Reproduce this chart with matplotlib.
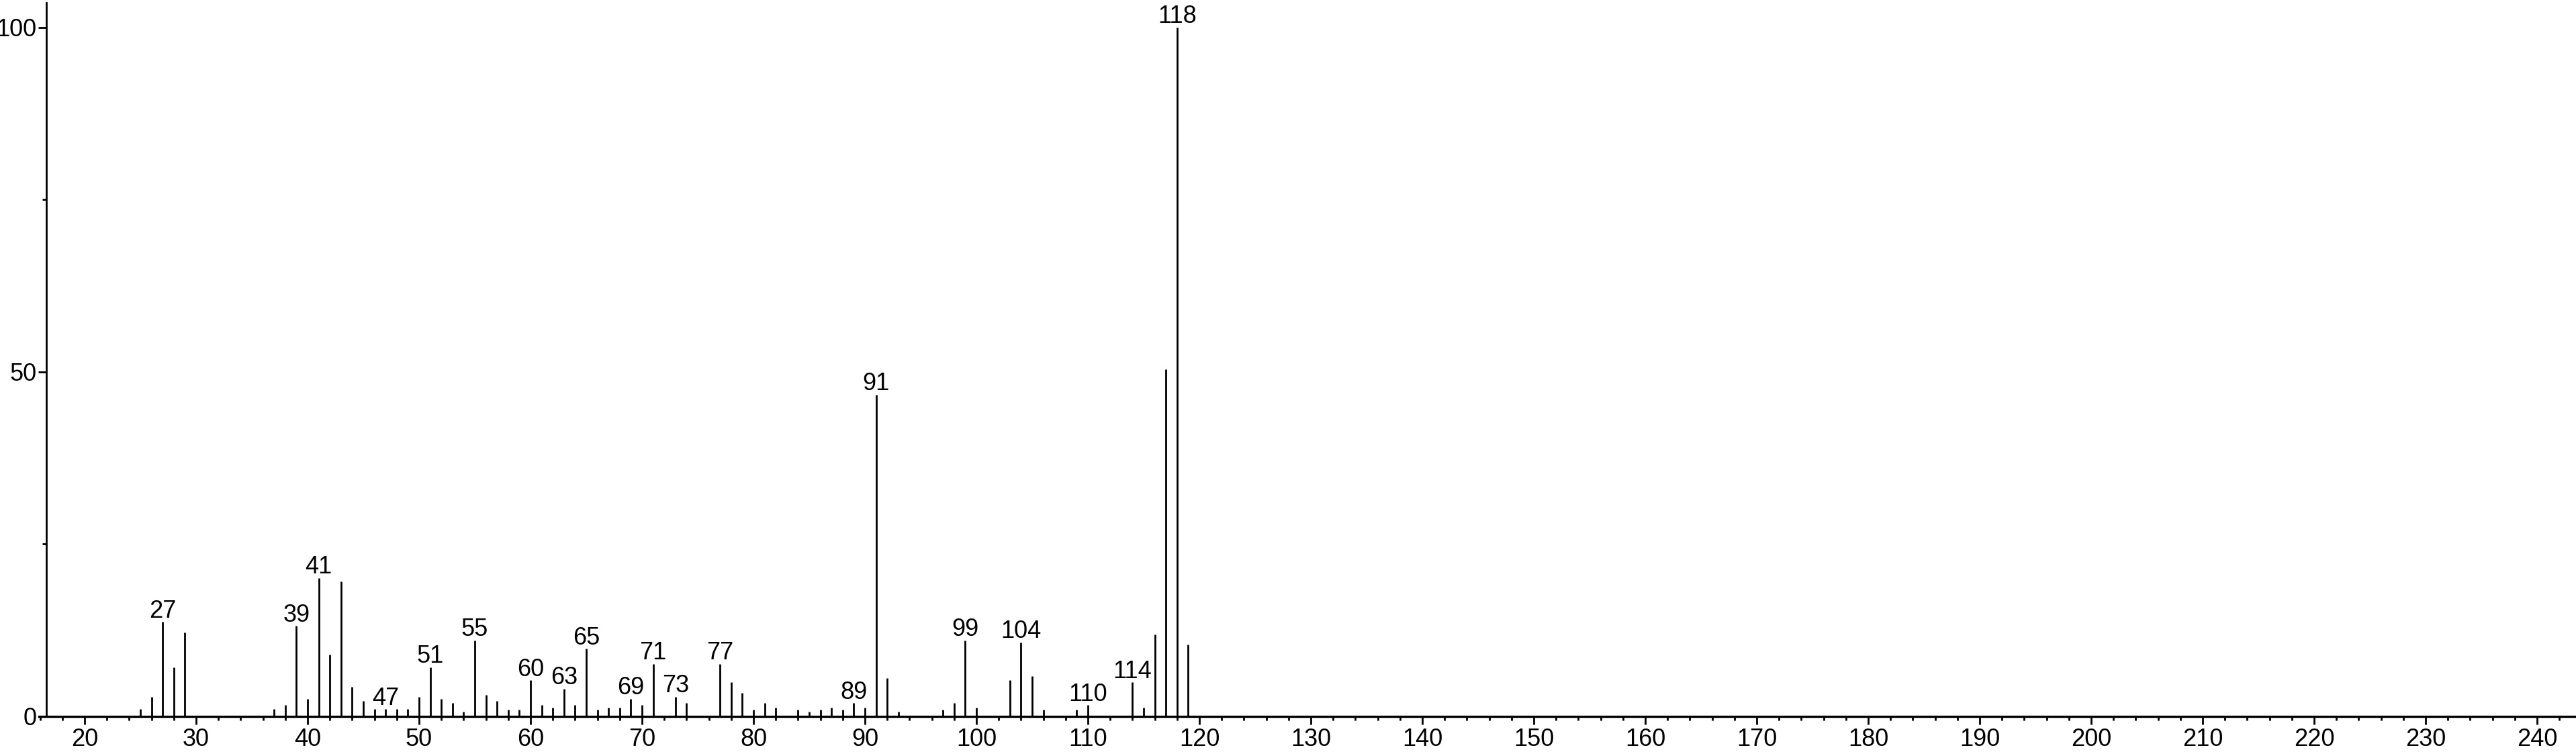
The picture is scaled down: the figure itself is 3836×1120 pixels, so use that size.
import matplotlib.pyplot as plt
from matplotlib.ticker import MultipleLocator

# mass spectrum: m/z and relative intensity
mz = [25, 26, 27, 28, 29, 37, 38, 39, 40, 41, 42, 43, 44, 45, 46, 47, 48, 49,
      50, 51, 52, 53, 54, 55, 56, 57, 58, 59, 60, 61, 62, 63, 64, 65, 66, 67,
      68, 69, 70, 71, 73, 74, 77, 78, 79, 80, 81, 82, 84, 85, 86, 87, 88, 89,
      90, 91, 92, 93, 97, 98, 99, 100, 103, 104, 105, 106, 109, 110, 114, 115,
      116, 117, 118, 119]
intensity = [1.0, 2.8, 13.7, 7.1, 12.2, 1.0, 1.6, 13.1, 2.5, 20.1, 8.9, 19.6,
             4.3, 2.2, 1.0, 1.0, 1.0, 1.0, 2.8, 7.1, 2.5, 1.9, 0.65, 11.0, 3.1,
             2.2, 0.9, 0.9, 5.2, 1.6, 1.2, 4.0, 1.6, 9.8, 0.9, 1.2, 1.2, 2.5,
             1.6, 7.6, 2.8, 1.9, 7.6, 4.9, 3.4, 0.9, 1.9, 1.2, 0.9, 0.65, 0.9,
             1.2, 0.9, 1.9, 1.2, 46.7, 5.5, 0.65, 0.9, 1.9, 11.0, 1.2, 5.2,
             10.7, 5.8, 0.9, 0.9, 1.6, 4.9, 1.2, 11.9, 50.4, 100.0, 10.4]
labeled = [27, 39, 41, 47, 51, 55, 60, 63, 65, 69, 71, 73, 77, 89, 91, 99,
           104, 110, 114, 118]
xticks = list(range(20, 250, 10))
yticks = [0, 50, 100]

plt.rcParams["font.family"] = ["Liberation Sans Narrow", "Liberation Sans",
                               "DejaVu Sans"]
W, H = 3836, 1120
fig = plt.figure(figsize=(W / 100, H / 100), dpi=100)
left_px, zero_px, top_px = 58, 1066.7, 4
ax = fig.add_axes([left_px / W, (H - zero_px) / H, 1 - left_px / W,
                   (zero_px - top_px) / H])

lw = 2.0
fs = 26
ax.vlines(mz, 0, intensity, color="black", linewidth=lw)
lookup = dict(zip(mz, intensity))
for m in labeled:
    ax.annotate(str(m), (m, lookup[m]), xytext=(0, -1), textcoords="offset points",
                ha="center", va="bottom", fontsize=fs)

ax.set_xlim(15.9, 243.5)
ax.set_ylim(0, 103.6)
for s in ["top", "right"]:
    ax.spines[s].set_visible(False)
ax.spines["left"].set_position(("axes", 11 / (W - left_px)))
ax.spines["left"].set_linewidth(2)
ax.spines["bottom"].set_linewidth(2.4)

ax.set_xticks(xticks)
ax.xaxis.set_minor_locator(MultipleLocator(2))
ax.set_yticks(yticks)
ax.yaxis.set_minor_locator(MultipleLocator(25))
ax.tick_params(axis="both", which="major", direction="out", length=8.5,
               width=2, labelsize=fs)
ax.tick_params(axis="both", which="minor", direction="out", length=4.5, width=2)
ax.tick_params(axis="x", pad=4)
ax.tick_params(axis="y", pad=2)

fig.savefig("out.png", dpi=100)
plt.close(fig)
